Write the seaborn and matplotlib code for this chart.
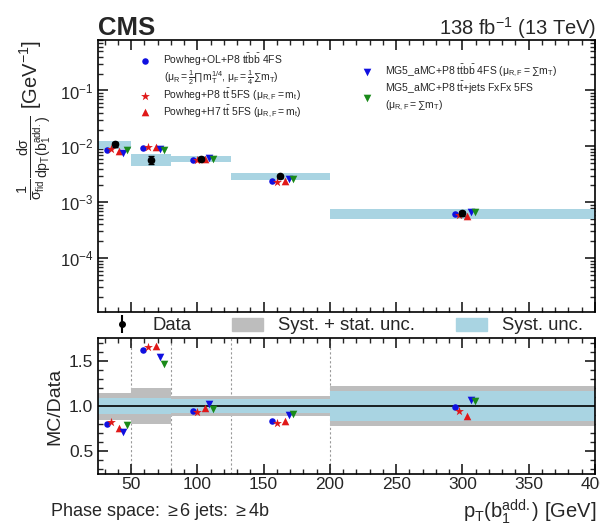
import numpy as np
import pandas as pd
import matplotlib
matplotlib.use("Agg")
import matplotlib.pyplot as plt
from matplotlib.patches import Patch
from matplotlib.ticker import MultipleLocator, LogLocator, NullFormatter
import seaborn as sns

# ---------------- data ----------------
bin_edges = [25, 50, 80, 125, 200, 400]
data_vals = [0.0108, 0.0058, 0.0060, 0.0029, 0.00063]
data_err_rel = [0.10, 0.15, 0.06, 0.06, 0.10]
upper_band_rel = [0.17, 0.24, 0.14, 0.14, 0.22]

model_names = [
    "Powheg+OL+P8 t$\\bar{t}$b$\\bar{b}$ 4FS",
    "Powheg+P8 t$\\bar{t}$ 5FS ($\\mu_{R,F} = m_t$)",
    "Powheg+H7 t$\\bar{t}$ 5FS ($\\mu_{R,F} = m_t$)",
    "MG5_aMC+P8 t$\\bar{t}$b$\\bar{b}$ 4FS ($\\mu_{R,F} = \\sum m_T$)",
    "MG5_aMC+P8 t$\\bar{t}$+jets FxFx 5FS\n($\\mu_{R,F} = \\sum m_T$)",
]
first_model_scales = "($\\mu_R = \\frac{1}{2}\\prod m_T^{1/4}$, $\\mu_F = \\frac{1}{4}\\sum m_T$)"

ratio_ol = [0.80, 1.62, 0.95, 0.84, 0.99]
ratio_p8 = [0.83, 1.65, 0.94, 0.81, 0.95]
ratio_h7 = [0.76, 1.66, 0.98, 0.84, 0.89]
ratio_mg_ttbb = [0.71, 1.54, 1.02, 0.90, 1.07]
ratio_mg_fxfx = [0.79, 1.47, 0.97, 0.91, 1.06]

syst_rel = [0.085, 0.087, 0.075, 0.075, 0.165]
tot_rel = [0.15, 0.20, 0.11, 0.11, 0.22]

# ---------------- style ----------------
model_colors = ["#1010e0", "#e01818", "#e01818", "#1010e0", "#1a8a1a"]
model_markers = ["o", "*", "^", "v", "v"]
model_sizes = [22, 45, 30, 30, 30]
x_offsets = [-6.0, -2.5, 3.5, 6.5, 9.5]

sns.set_theme(style="ticks")
plt.rcParams["font.family"] = ["Liberation Sans", "DejaVu Sans"]
plt.rcParams["mathtext.fontset"] = "custom"
plt.rcParams["mathtext.rm"] = "Liberation Sans"
plt.rcParams["mathtext.it"] = "Liberation Sans"
plt.rcParams["mathtext.bf"] = "Liberation Sans:bold"
plt.rcParams["mathtext.default"] = "regular"
plt.rcParams.update({
    "xtick.direction": "in", "ytick.direction": "in",
    "xtick.top": True, "ytick.right": True,
    "xtick.major.size": 7, "ytick.major.size": 7,
    "xtick.minor.size": 3.5, "ytick.minor.size": 3.5,
    "xtick.minor.visible": True, "ytick.minor.visible": True,
    "axes.linewidth": 1.2, "axes.edgecolor": "black",
})

edges = np.array(bin_edges, dtype=float)
centers = 0.5 * (edges[:-1] + edges[1:])
ratios = [ratio_ol, ratio_p8, ratio_h7, ratio_mg_ttbb, ratio_mg_fxfx]

fig = plt.figure(figsize=(6.0, 5.25), dpi=100)
ax = fig.add_axes([98/600, 1-311.7/525, 497/600, (311.7-40)/525])
rax = fig.add_axes([98/600, 1-474/525, 497/600, (474-338.3)/525])

def step_arr(v):
    v = np.asarray(v, dtype=float)
    return np.append(v, v[-1])

# ---- upper panel ----
dv = np.array(data_vals)
ub = np.array(upper_band_rel)
ax.fill_between(edges, step_arr(dv * (1 - ub)), step_arr(dv * (1 + ub)),
                step="post", color="#a9d4e2", lw=0, zorder=1)

rows = []
for i, (name, r) in enumerate(zip(model_names, ratios)):
    for j in range(len(centers)):
        rows.append({"model": name, "x": centers[j] + x_offsets[i],
                     "y": data_vals[j] * r[j], "ratio": r[j]})
df = pd.DataFrame(rows)

for i, name in enumerate(model_names):
    sub = df[df["model"] == name]
    sns.scatterplot(data=sub, x="x", y="y", ax=ax, color=model_colors[i],
                    marker=model_markers[i], s=model_sizes[i], linewidth=0,
                    label=name, zorder=4)
    sns.scatterplot(data=sub, x="x", y="ratio", ax=rax, color=model_colors[i],
                    marker=model_markers[i], s=model_sizes[i], linewidth=0,
                    legend=False, zorder=4)

ax.errorbar(centers, dv, yerr=dv * np.array(data_err_rel), fmt="o", color="black",
            ms=4.5, capsize=2, elinewidth=1.2, zorder=5)

ax.set_yscale("log")
ax.set_ylim(1.1e-5, 0.8)
ax.set_xlim(25, 400)
ax.xaxis.set_major_locator(MultipleLocator(50))
ax.xaxis.set_minor_locator(MultipleLocator(10))
ax.yaxis.set_major_locator(LogLocator(base=10, numticks=10))
ax.yaxis.set_minor_locator(LogLocator(base=10, subs=np.arange(2, 10), numticks=100))
ax.yaxis.set_minor_formatter(NullFormatter())
ax.set_xticklabels([])
ax.set_xlabel("")
ax.tick_params(axis="y", labelsize=12)
ax.set_ylabel("$\\frac{1}{\\sigma_{fid}}\\frac{d\\sigma}{dp_{T}(b_{1}^{add.})}$ [GeV$^{-1}$]",
              fontsize=14.5, loc="top")

handles, labels = ax.get_legend_handles_labels()
leg_kw = dict(loc="upper left", bbox_transform=fig.transFigure, frameon=False,
              fontsize=7.5, handlelength=1.0, handletextpad=1.2,
              borderpad=0, borderaxespad=0)
leg_a = ax.legend(handles[:1], labels[:1], bbox_to_anchor=(140/600, 1-52/525),
                  labelspacing=0.0, **leg_kw)
ax.add_artist(leg_a)
leg_b = ax.legend(handles[1:3], labels[1:3], bbox_to_anchor=(140/600, 1-87/525),
                  labelspacing=0.0, **leg_kw)
ax.add_artist(leg_b)
ax.legend(handles[3:], labels[3:], bbox_to_anchor=(362/600, 1-63/525),
          labelspacing=0.1, **leg_kw)
fig.text(164/600, 1-81/525, first_model_scales, fontsize=7.5, ha="left", va="baseline")

# ---- ratio panel ----
tr = np.array(tot_rel)
sr = np.array(syst_rel)
rax.fill_between(edges, step_arr(1 - tr), step_arr(1 + tr), step="post",
                 color="#bdbdbd", lw=0, zorder=1)
rax.fill_between(edges, step_arr(1 - sr), step_arr(1 + sr), step="post",
                 color="#a9d4e2", lw=0, zorder=2)
rax.axhline(1.0, color="black", lw=1.2, zorder=3)
for e in edges[1:-1]:
    rax.axvline(e, color="#999999", lw=0.8, ls=(0, (2, 2)), zorder=0)

rax.set_xlim(25, 400)
rax.set_ylim(0.25, 1.75)
rax.xaxis.set_major_locator(MultipleLocator(50))
rax.xaxis.set_minor_locator(MultipleLocator(10))
rax.yaxis.set_major_locator(MultipleLocator(0.5))
rax.yaxis.set_minor_locator(MultipleLocator(0.1))
rax.tick_params(axis="both", labelsize=12.5)
rax.tick_params(axis="x", pad=2.5)
rax.set_ylabel("MC/Data", fontsize=14)
rax.set_xlabel("")
fig.text(596/600, 1-518/525, "p$_{T}$(b$_{1}^{add.}$) [GeV]", fontsize=14.5,
         ha="right", va="baseline")

# ---- middle legend ----
data_handle = ax.errorbar([], [], yerr=[], fmt="o", color="black", ms=4, capsize=2)
mid_handles = [data_handle, Patch(color="#bdbdbd"), Patch(color="#a9d4e2")]
fig.legend(mid_handles, ["Data", "Syst. + stat. unc.", "Syst. unc."],
           loc="center left", bbox_to_anchor=(106/600, 1-326/525), ncol=3,
           frameon=False, fontsize=13.3, handlelength=1.7, handletextpad=0.8,
           columnspacing=2.2, borderpad=0, borderaxespad=0)

# ---- header / footer ----
fig.text(98/600, 1-35/525, "CMS", fontsize=18.5, fontweight="bold", ha="left", va="baseline")
fig.text(596/600, 1-35/525, "138 fb$^{-1}$ (13 TeV)", fontsize=14.5, ha="right", va="baseline")
fig.text(50/600, 1-516/525, "Phase space: $\\geq$6 jets: $\\geq$4b", fontsize=13,
         ha="left", va="baseline")

fig.savefig("out.png", dpi=100)
